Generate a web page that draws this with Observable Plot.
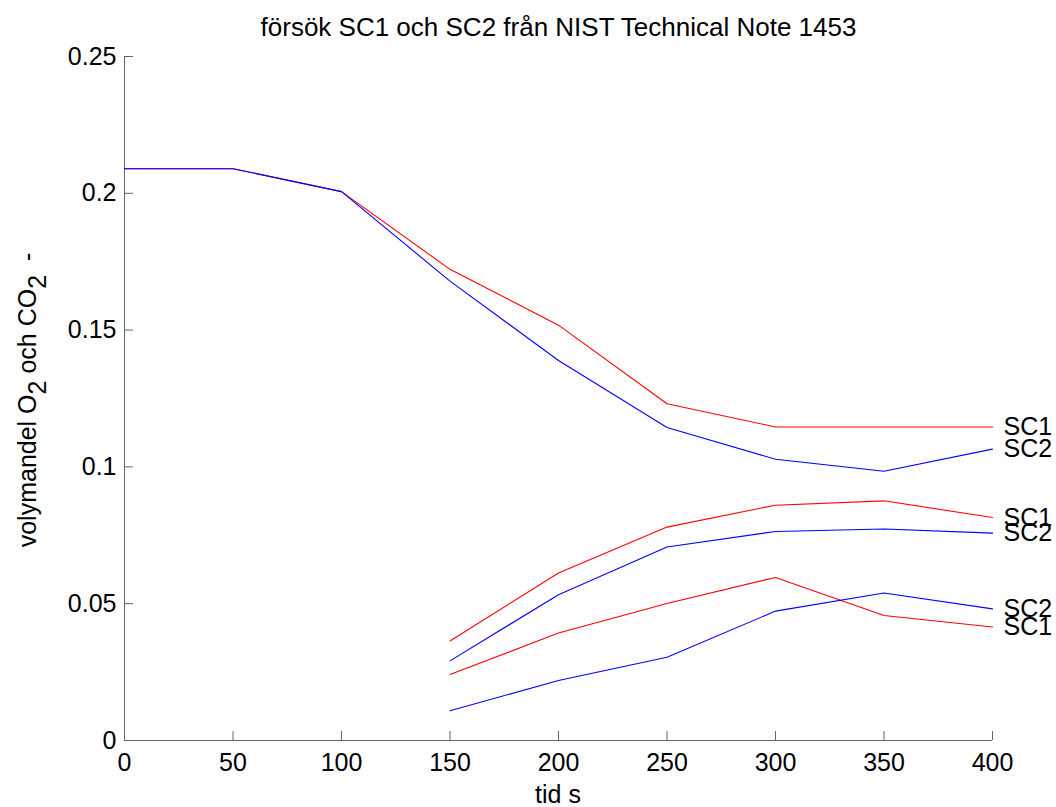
<!DOCTYPE html>
<html>
<head>
<meta charset="utf-8">
<script src="https://cdn.jsdelivr.net/npm/d3@7"></script>
<script src="https://cdn.jsdelivr.net/npm/@observablehq/plot@0.6"></script>
<style>
  html, body { margin: 0; padding: 0; background: #fff; }
  #chart svg { display: block; }
</style>
</head>
<body>
<div id="chart"></div>
<script>
// Time axis (s)
const tFull = [0, 50, 100, 150, 200, 250, 300, 350, 400];
const tLate = [150, 200, 250, 300, 350, 400];

// O2 volume fraction, both tests
const o2SC1 = [0.209, 0.209, 0.2006, 0.1722, 0.1518, 0.1231, 0.1146, 0.1146, 0.1146];
const o2SC2 = [0.209, 0.209, 0.2006, 0.1679, 0.1389, 0.1144, 0.1028, 0.0984, 0.1065];

// CO2 volume fraction, upper measuring point
const co2aSC1 = [0.0364, 0.0612, 0.0780, 0.0860, 0.0876, 0.0815];
const co2aSC2 = [0.0291, 0.0533, 0.0707, 0.0764, 0.0773, 0.0758];

// CO2 volume fraction, lower measuring point
const co2bSC1 = [0.0241, 0.0393, 0.0501, 0.0596, 0.0457, 0.0415];
const co2bSC2 = [0.0109, 0.0219, 0.0304, 0.0473, 0.0539, 0.0481];

const xTicks = [0, 50, 100, 150, 200, 250, 300, 350, 400];
const yTicks = [0, 0.05, 0.1, 0.15, 0.2, 0.25];

const titleText = "försök SC1 och SC2 från NIST Technical Note 1453";
const xLabel = "tid s";

const colors = {SC1: "#ff0000", SC2: "#0000ff"};

// Long-format table built from the arrays above
const series = [
  {id: "o2-SC1", test: "SC1", t: tFull, v: o2SC1},
  {id: "o2-SC2", test: "SC2", t: tFull, v: o2SC2},
  {id: "co2a-SC1", test: "SC1", t: tLate, v: co2aSC1},
  {id: "co2a-SC2", test: "SC2", t: tLate, v: co2aSC2},
  {id: "co2b-SC1", test: "SC1", t: tLate, v: co2bSC1},
  {id: "co2b-SC2", test: "SC2", t: tLate, v: co2bSC2}
];
const rows = series.flatMap(s => s.t.map((t, i) => ({id: s.id, test: s.test, t, v: s.v[i]})));
const ends = series.map(s => ({test: s.test, t: s.t[s.t.length - 1], v: s.v[s.v.length - 1]}));

const FONT = "'Liberation Sans', Arial, Helvetica, sans-serif";
const FS = 25;
const axisColor = "#666";

const plot = Plot.plot({
  width: 1056,
  height: 807,
  marginLeft: 124,
  marginRight: 64,
  marginTop: 56,
  marginBottom: 67,
  style: {fontFamily: FONT, fontSize: FS + "px", color: "#000", background: "#fff"},
  x: {domain: [0, 400]},
  y: {domain: [0, 0.25]},
  marks: [
    Plot.axisX({ticks: xTicks, tickSize: -9, tickPadding: 22, tickFormat: d => String(d), stroke: axisColor, fill: "#000", fontSize: FS, label: null}),
    Plot.axisY({ticks: yTicks, tickSize: -9, tickPadding: 17, tickFormat: d => String(d), stroke: axisColor, fill: "#000", fontSize: FS, label: null}),
    Plot.ruleX([0], {stroke: axisColor}),
    Plot.ruleY([0], {stroke: axisColor}),
    Plot.line(rows, {x: "t", y: "v", z: "id", stroke: d => colors[d.test], strokeWidth: 1.1}),
    Plot.text(ends, {x: "t", y: "v", text: "test", textAnchor: "start", dx: 11, fill: "#000", fontSize: FS}),
    Plot.text([titleText], {frameAnchor: "top", lineAnchor: "middle", dy: -29, fill: "#000", fontSize: 26})
  ]
});

const svg = d3.select(plot);

// x-axis title
svg.append("text")
  .attr("x", (124 + 992) / 2)
  .attr("y", 796)
  .attr("text-anchor", "middle")
  .attr("dominant-baseline", "middle")
  .attr("font-family", FONT)
  .attr("font-size", FS)
  .attr("fill", "#000")
  .text(xLabel);

// y-axis title with subscripts
const yl = svg.append("text")
  .attr("transform", "translate(29,400) rotate(-90)")
  .attr("text-anchor", "middle")
  .attr("dominant-baseline", "middle")
  .attr("font-family", FONT)
  .attr("font-size", FS)
  .attr("fill", "#000");
yl.append("tspan").text("volymandel O");
yl.append("tspan").attr("dy", "0.4em").text("2");
yl.append("tspan").attr("dy", "-0.4em").text(" och CO");
yl.append("tspan").attr("dy", "0.4em").text("2");
yl.append("tspan").attr("dy", "-0.4em").text("\u00a0\u00a0-");

document.getElementById("chart").appendChild(plot);
</script>
</body>
</html>
